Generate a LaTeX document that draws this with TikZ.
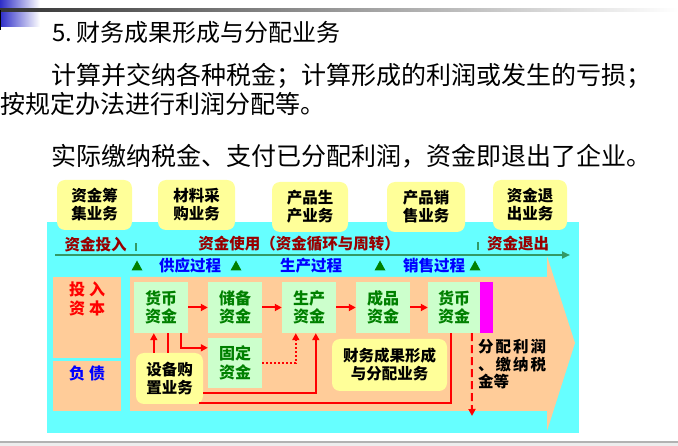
\documentclass[tikz,border=0pt]{standalone}
\usepackage{fontspec}
\newfontfamily\cjk{Noto Sans CJK SC}
\usetikzlibrary{arrows.meta,calc}
\definecolor{cyanbg}{HTML}{66FFFF}
\definecolor{peach}{HTML}{FFCC99}
\definecolor{lgreen}{HTML}{CCFFCC}
\definecolor{ylw}{HTML}{FFFF99}
\definecolor{dred}{HTML}{990000}
\definecolor{dgreen}{HTML}{008000}
\definecolor{lineg}{HTML}{339966}
\definecolor{tblue}{HTML}{0000FF}
\definecolor{tred}{HTML}{FF0000}
\definecolor{mag}{HTML}{FF00FF}
\definecolor{decoblue}{HTML}{2E2EC8}
\tikzset{
  ybox/.style={fill=ylw, rounded corners=8pt, inner sep=0pt, align=center,
    font=\cjk\bfseries\fontsize{15.5}{18}\selectfont, text=black},
  gbox/.style={fill=lgreen, inner sep=0pt, align=center, minimum width=54pt, minimum height=51pt,
    font=\cjk\bfseries\fontsize{16}{18.5}\selectfont, text=dgreen},
  rowlbl/.style={font=\cjk\bfseries\fontsize{15.5}{17}\selectfont, text=dred, inner sep=0pt},
  proc/.style={font=\cjk\bfseries\fontsize{15.5}{17}\selectfont, text=tblue, inner sep=0pt},
  tri/.style={fill=dgreen, draw=none},
  rarr/.style={draw=tred, line width=2pt, -{Triangle[length=7pt,width=7pt]}},
  rline/.style={draw=tred, line width=2pt},
  rdot/.style={draw=tred, line width=2pt, dotted, -{Triangle[length=7pt,width=7pt]}},
  rdash/.style={draw=tred, line width=2pt, dash pattern=on 8pt off 4pt, -{Triangle[length=7pt,width=7pt]}},
  para/.style={font=\cjk\fontsize{25}{28}\selectfont, inner sep=0pt, anchor=west}
}
\begin{document}
\begin{tikzpicture}[x=1pt,y=-1pt]
\useasboundingbox (0,0) rectangle (678,446);
% decoration
\shade[left color=decoblue, right color=white] (0,0) rectangle (40,27);
\shade[left color=black!80, right color=white] (0,9) rectangle (678,12);
\fill[black] (0,10) rectangle (1.2,30);
\fill[black!7] (0,442) rectangle (678,446);
\fill[black!30] (0,441.5) rectangle (678,443);
% title and text
\node[para, font=\cjk\fontsize{24}{28}\selectfont] (title) at (52,32) {5.\,财务成果形成与分配业务};
\node[para] (p1) at (51,76) {计算并交纳各种税金；计算形成的利润或发生的亏损；};
\node[para] (p2) at (0,104) {按规定办法进行利润分配等。};
\node[para] (p3) at (51,156) {实际缴纳税金、支付已分配利润，资金即退出了企业。};
% background
\fill[cyanbg] (47,222) rectangle (579,433);
\fill[peach] (130,277) -- (547,277) -- (547,256) -- (575,343) -- (547,431) -- (547,411) -- (130,411) -- cycle;
\fill[peach] (53,277) rectangle (121,358);
\fill[peach] (53,361) rectangle (121,411);
% top business boxes
\node[ybox, minimum width=75pt, minimum height=50pt] (b1) at (94.5,205) {资金筹\\集业务};
\node[ybox, minimum width=77pt, minimum height=50pt] (b2) at (196.5,205) {材料采\\购业务};
\node[ybox, minimum width=76pt, minimum height=50pt] (b3) at (310,207) {产品生\\产业务};
\node[ybox, minimum width=78pt, minimum height=50pt] (b4) at (426,207) {产品销\\售业务};
\node[ybox, minimum width=74pt, minimum height=50pt] (b5) at (530,205) {资金退\\出业务};
% row labels
\node[rowlbl] (l1) at (95.5,245) {资金投入};
\node[rowlbl] (l2) at (299,244) {资金使用（资金循环与周转）};
\node[rowlbl] (l3) at (518,244) {资金退出};
\fill[lineg] (134.5,243) rectangle (136.5,251);
\fill[lineg] (477,242) rectangle (479,250);
\coordinate (gl0) at (55,255);
\coordinate (gl1) at (570,255);
\draw[lineg, line width=2.5pt, -{Triangle[length=8pt,width=7pt]}] (gl0) -- (gl1);
% process labels and triangles
\foreach \x in {137,236,380,475} {\fill[tri] (\x-5.5,270.5) -- (\x+5.5,270.5) -- (\x,260.5) -- cycle;}
\node[proc] (s1) at (190,266) {供应过程};
\node[proc] (s2) at (311,266) {生产过程};
\node[proc] (s3) at (434,266) {销售过程};
% left panel labels
\node[font=\cjk\bfseries\fontsize{16}{18.5}\selectfont, text=tred, align=center, inner sep=0pt] (tr) at (87,299) {投\hspace{4pt}入\\资\hspace{4pt}本};
\node[font=\cjk\bfseries\fontsize{16}{18}\selectfont, text=tblue, inner sep=0pt] (fz) at (87,373) {负\hspace{4pt}债};
% green boxes
\node[gbox] (m1) at (161,307.5) {货币\\资金};
\node[gbox] (cb) at (235,307.5) {储备\\资金};
\node[gbox] (sc) at (309,307.5) {生产\\资金};
\node[gbox] (cp) at (383,307.5) {成品\\资金};
\node[gbox, minimum width=52pt] (m2) at (454,307.5) {货币\\资金};
\fill[mag] (480,282) rectangle (493,333);
\node[gbox, minimum height=50pt] (gd) at (235,363) {固定\\资金};
% yellow boxes inside
\node[ybox, minimum width=67pt, minimum height=51pt] (sb) at (169.5,378.5) {设备购\\置业务};
\node[ybox, minimum width=115pt, minimum height=52pt] (cw) at (389.5,365) {财务成果形成\\与分配业务};
% connectors
\draw[rarr] (m1) -- (cb);
\draw[rarr] (cb) -- (sc);
\draw[rarr] (sc) -- (cp);
\draw[rarr] (cp) -- (m2);
\draw[rarr] ([xshift=18pt]sb.north west) -- ([xshift=20pt]m1.south west);
\draw[rline] ([xshift=34pt]m1.south west) -- ([xshift=32pt]sb.north west);
\draw[rarr] ([xshift=47pt]m1.south west) |- ([yshift=-10pt]gd.north west);
\draw[rdot] (gd.east) -| ([xshift=14pt]sc.south west);
\draw[rarr] ([yshift=-14.5pt]sb.east) -| ([xshift=34pt]sc.south west);
\draw[rline] ([xshift=23pt]m2.south west) |- ([xshift=-4pt,yshift=-24.5pt]sb.east);
\coordinate (exitpt) at (472,416);
\draw[rdash] ([xshift=44pt]m2.south west) -- (exitpt);
\node[anchor=north west, align=left, inner sep=0pt, font=\cjk\bfseries\fontsize{15.5}{17.5}\selectfont] (fp) at (478,339)
  {分\hspace{2pt}配\hspace{2pt}利\hspace{2pt}润\\、\hspace{2pt}缴\hspace{2pt}纳\hspace{2pt}税\\金等};
\end{tikzpicture}
\end{document}
